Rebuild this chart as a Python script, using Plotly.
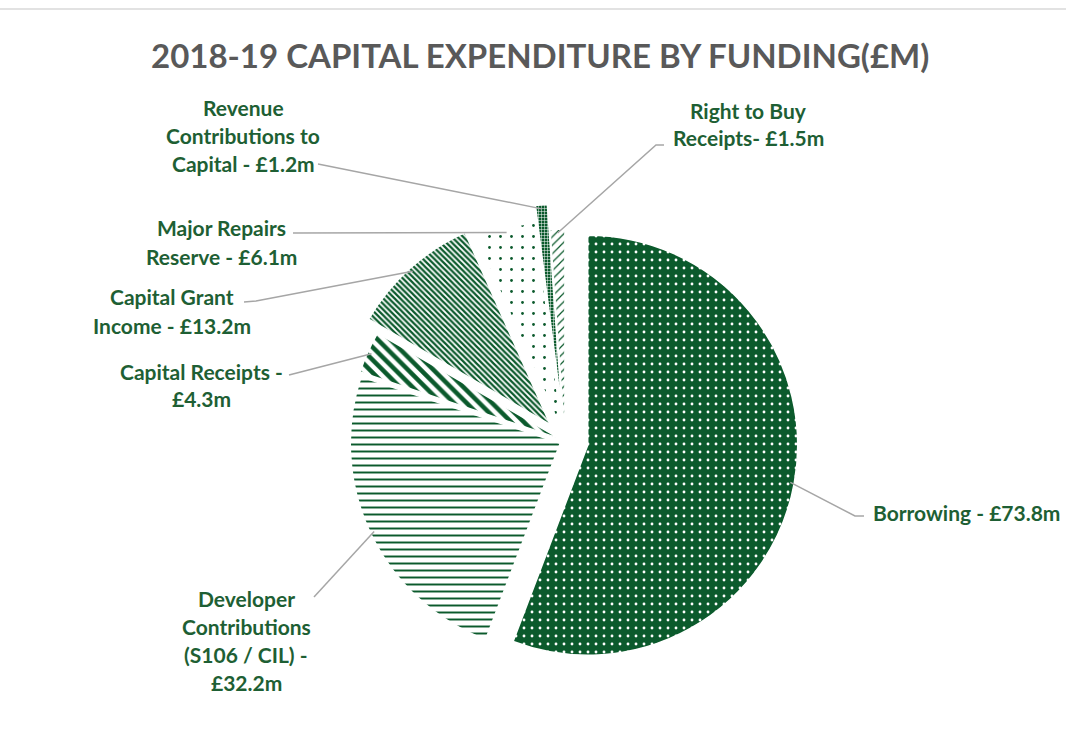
import math
import plotly.graph_objects as go

# ---- data -------------------------------------------------------------
categories = [
    "Borrowing",
    "Developer Contributions (S106 / CIL)",
    "Capital Receipts",
    "Capital Grant Income",
    "Major Repairs Reserve",
    "Revenue Contributions to Capital",
    "Right to Buy Receipts",
]
values = [73.8, 32.2, 4.3, 13.2, 6.1, 1.2, 1.5]  # £m
label_lines = [
    ["Borrowing - £{v}m"],
    ["Developer", "Contributions", "(S106 / CIL) -", "£{v}m"],
    ["Capital Receipts -", "£{v}m"],
    ["Capital Grant", "Income - £{v}m"],
    ["Major Repairs", "Reserve - £{v}m"],
    ["Revenue", "Contributions to", "Capital - £{v}m"],
    ["Right to Buy", "Receipts- £{v}m"],
]
title_text = "2018-19 CAPITAL EXPENDITURE BY FUNDING(£M)"

# ---- styling ----------------------------------------------------------
W, H = 1066, 731
DARK = "#0b5a2c"
WHITE = "#ffffff"
TEXT_GREEN = "#1e5f34"
LINE_GREY = "#a6a6a6"

pulls = [0.11, 0.025, 0.03, 0.105, 0.05, 0.13, 0.01]
bg = [DARK, WHITE, WHITE, WHITE, WHITE, DARK, WHITE]
fg = [WHITE, DARK, DARK, DARK, DARK, WHITE, DARK]
shapes_ = [".", "-", "\\", "\\", ".", "+", "/"]
sizes = [8, 7, 9, 4, 11, 3, 6]
solid = [0.1, 0.28, 0.5, 0.55, 0.05, 0.3, 0.2]

# pie box (pixels): centre and radius used by plotly for a pulled pie
CX, CY, R = 565, 441, 210
half = R * (1 + max(pulls))
dom_x = [(CX - half) / W, (CX + half) / W]
dom_y = [1 - (CY + half) / H, 1 - (CY - half) / H]

# label placement (pixels): centre x, first line y, leader anchor, elbow
LINE_H = 28
label_pos = [
    dict(x=966, y=512, anchor=(864, 516), elbow=(855, 516)),
    dict(x=246, y=598, anchor=(314, 597), elbow=None),
    dict(x=201, y=371, anchor=(289, 375), elbow=None),
    dict(x=172, y=297, anchor=(244, 302), elbow=(256, 301)),
    dict(x=221, y=228, anchor=(293, 233), elbow=None),
    dict(x=243, y=107, anchor=(318, 164), elbow=None),
    dict(x=748, y=110, anchor=(664, 145), elbow=(656, 145)),
]


def px(x, y):
    return x / W, 1 - y / H


fig = go.Figure(
    go.Pie(
        labels=categories,
        values=values,
        sort=False,
        direction="clockwise",
        rotation=0,
        pull=pulls,
        textinfo="none",
        hoverinfo="label+value",
        showlegend=False,
        domain=dict(x=dom_x, y=dom_y),
        marker=dict(
            colors=bg,
            line=dict(color=WHITE, width=1.5),
            pattern=dict(
                shape=shapes_,
                fgcolor=fg,
                fgopacity=1,
                size=sizes,
                solidity=solid,
                fillmode="overlay",
            ),
        ),
    )
)

# slice mid-angles (clockwise from 12 o'clock) for the leader lines
total = sum(values)
angles = []
acc = 0.0
for v in values:
    angles.append((acc + v / 2) / total * 2 * math.pi)
    acc += v

annotations = []
shapes = []
for i, v in enumerate(values):
    a = angles[i]
    rr = R * (1 + pulls[i]) - 4
    ex, ey = CX + rr * math.sin(a), CY - rr * math.cos(a)
    pos = label_pos[i]
    pts = [pos["anchor"]]
    if pos["elbow"]:
        pts.append(pos["elbow"])
    pts.append((ex, ey))
    path = "M " + " L ".join(f"{px(x, y)[0]:.5f},{px(x, y)[1]:.5f}" for x, y in pts)
    shapes.append(dict(type="path", xref="paper", yref="paper", path=path,
                       line=dict(color=LINE_GREY, width=1.5)))
    for k, line in enumerate(label_lines[i]):
        lx, ly = px(pos["x"], pos["y"] + k * LINE_H)
        annotations.append(dict(
            x=lx, y=ly, xref="paper", yref="paper", showarrow=False,
            xanchor="center", yanchor="middle",
            text="<b>" + line.format(v=v) + "</b>",
            font=dict(family="Lato", size=21, color=TEXT_GREEN),
        ))

# chart title
tx, ty = px(540, 55)
annotations.append(dict(
    x=tx, y=ty, xref="paper", yref="paper", showarrow=False,
    xanchor="center", yanchor="middle",
    text="<b>" + title_text + "</b>",
    font=dict(family="Lato", size=33, color="#595959"),
))

# thin frame edge along the top
shapes.append(dict(type="line", xref="paper", yref="paper",
                   x0=0, x1=1, y0=1 - 9 / H, y1=1 - 9 / H,
                   line=dict(color="#d9d9d9", width=1.5)))

fig.update_layout(
    width=W, height=H,
    margin=dict(l=0, r=0, t=0, b=0),
    paper_bgcolor=WHITE, plot_bgcolor=WHITE,
    annotations=annotations, shapes=shapes,
)

fig.write_html("out.html")
